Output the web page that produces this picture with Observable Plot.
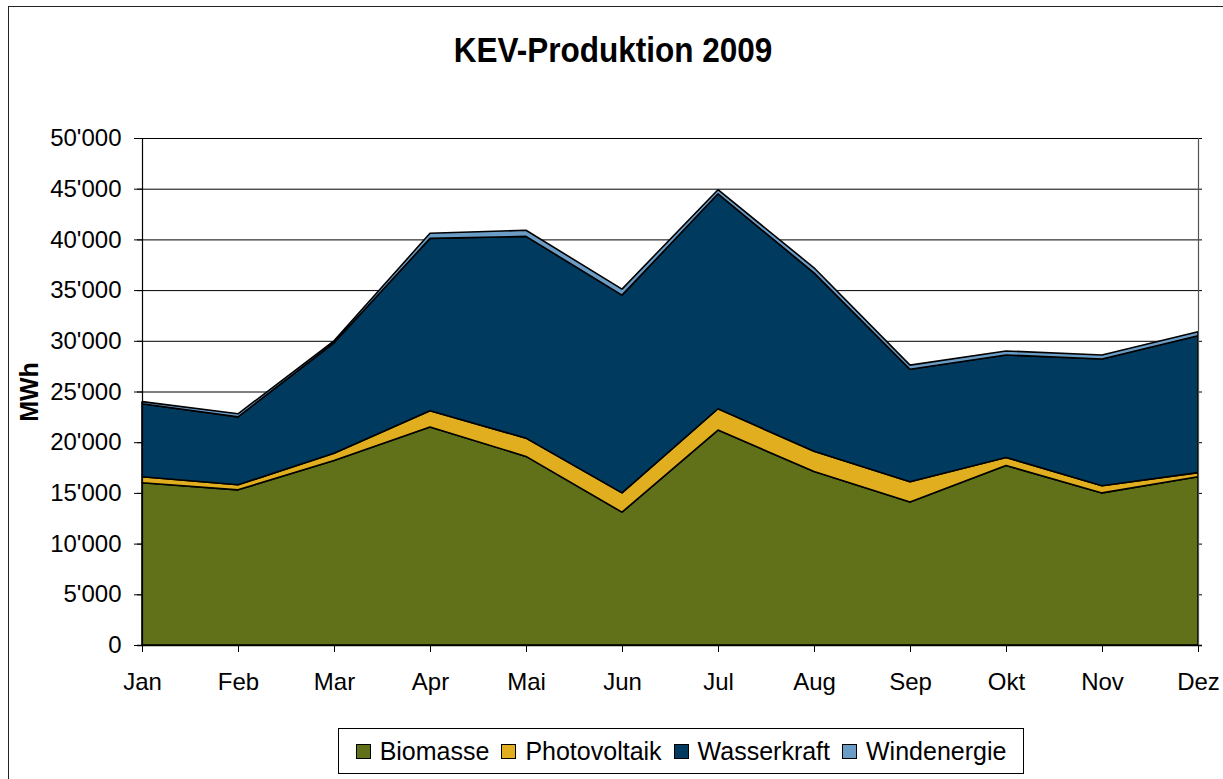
<!DOCTYPE html>
<html>
<head>
<meta charset="utf-8">
<script src="https://cdn.jsdelivr.net/npm/d3@7"></script>
<script src="https://cdn.jsdelivr.net/npm/@observablehq/plot@0.6"></script>
<style>
  html, body { margin: 0; padding: 0; background: #fff; overflow: hidden; }
  body { width: 1223px; height: 779px; position: relative; font-family: "Liberation Sans", Arial, sans-serif; color: #000; }
  #frame { position: absolute; left: 8px; top: 6px; width: 1300px; height: 900px; border: 1.5px solid #222; box-sizing: border-box; }
  #chart { position: absolute; left: 0; top: 0; }
  #title { position: absolute; left: 0; width: 1223px; top: 32px; text-align: center; font-weight: bold; font-size: 35px; line-height: 1; }
  #title span { display: inline-block; transform: scaleX(0.9); transform-origin: center; margin-left: 2px; }
  #ylabel { position: absolute; left: 29px; top: 392px; transform: translate(-50%, -50%) rotate(-90deg); font-weight: bold; font-size: 25px; line-height: 1; white-space: nowrap; }
  #legend { position: absolute; left: 338px; top: 728px; width: 686px; height: 46px; border: 1px solid #000; box-sizing: border-box; display: flex; align-items: center; justify-content: center; font-size: 25px; }
  .item { display: flex; align-items: center; margin: 0 6px; }
  .sw { width: 15px; height: 15px; border: 1.5px solid #000; box-sizing: border-box; margin-right: 9px; }
</style>
</head>
<body>
<div id="frame"></div>
<div id="chart"></div>
<div id="title"><span>KEV-Produktion 2009</span></div>
<div id="ylabel">MWh</div>
<div id="legend"></div>
<script>
const months = ["Jan","Feb","Mar","Apr","Mai","Jun","Jul","Aug","Sep","Okt","Nov","Dez"];
const seriesNames = ["Biomasse","Photovoltaik","Wasserkraft","Windenergie"];
const seriesColors = ["#617119","#E0AE1F","#003A5E","#6A9CC6"];
const biomasse     = [16000, 15300, 18200, 21500, 18600, 13100, 21200, 17100, 14100, 17700, 15000, 16600];
const photovoltaik = [  600,   500,   700,  1600,  1800,  1900,  2100,  2000,  2000,   800,   700,   400];
const wasserkraft  = [ 7200,  6700, 10900, 17000, 19900, 19500, 21200, 17600, 11100, 10100, 12500, 13500];
const windenergie  = [  200,   300,   200,   500,   600,   600,   400,   500,   400,   400,   400,   400];
const yTicks = [0, 5000, 10000, 15000, 20000, 25000, 30000, 35000, 40000, 45000, 50000];

const seriesValues = [biomasse, photovoltaik, wasserkraft, windenergie];
const data = [];
seriesNames.forEach((s, i) => {
  months.forEach((m, j) => data.push({month: m, series: s, value: seriesValues[i][j]}));
});

const locale = d3.formatLocale({decimal: ".", thousands: "'", grouping: [3], currency: ["", ""]});
const fmt = locale.format(",d");

const chart = Plot.plot({
  width: 1223,
  height: 779,
  marginLeft: 137,
  marginRight: 21,
  marginTop: 138,
  marginBottom: 134,
  style: {fontFamily: "'Liberation Sans', Arial, sans-serif", fontSize: "24px", color: "#000", background: "transparent", overflow: "visible"},
  x: {type: "point", domain: months, padding: 0, label: null},
  y: {domain: [0, 50000], label: null},
  color: {domain: seriesNames, range: seriesColors},
  marks: [
    Plot.ruleY(yTicks, {stroke: "#000", strokeWidth: 1}),
    Plot.areaY(data, {x: "month", y: "value", fill: "series", z: "series", stroke: "#000", strokeWidth: 1.6, strokeLinejoin: "miter"}),
    Plot.ruleX([months[0]], {y1: 0, y2: 50000, stroke: "#000", strokeWidth: 1.2}),
    Plot.ruleX([months[months.length - 1]], {y1: 0, y2: 50000, stroke: "#555", strokeWidth: 1.2}),
    Plot.ruleY([0], {stroke: "#000", strokeWidth: 1.5}),
    Plot.axisY({ticks: yTicks, tickFormat: fmt, tickSize: 8, tickPadding: 13, dx: 5, fontSize: 24, label: null}),
    Plot.axisX({tickSize: 7, tickPadding: 20, fontSize: 24, label: null})
  ]
});
document.getElementById("chart").appendChild(chart);

const legend = document.getElementById("legend");
seriesNames.forEach((s, i) => {
  const item = document.createElement("div");
  item.className = "item";
  const sw = document.createElement("div");
  sw.className = "sw";
  sw.style.background = seriesColors[i];
  const t = document.createElement("span");
  t.textContent = s;
  item.appendChild(sw);
  item.appendChild(t);
  legend.appendChild(item);
});
</script>
</body>
</html>
